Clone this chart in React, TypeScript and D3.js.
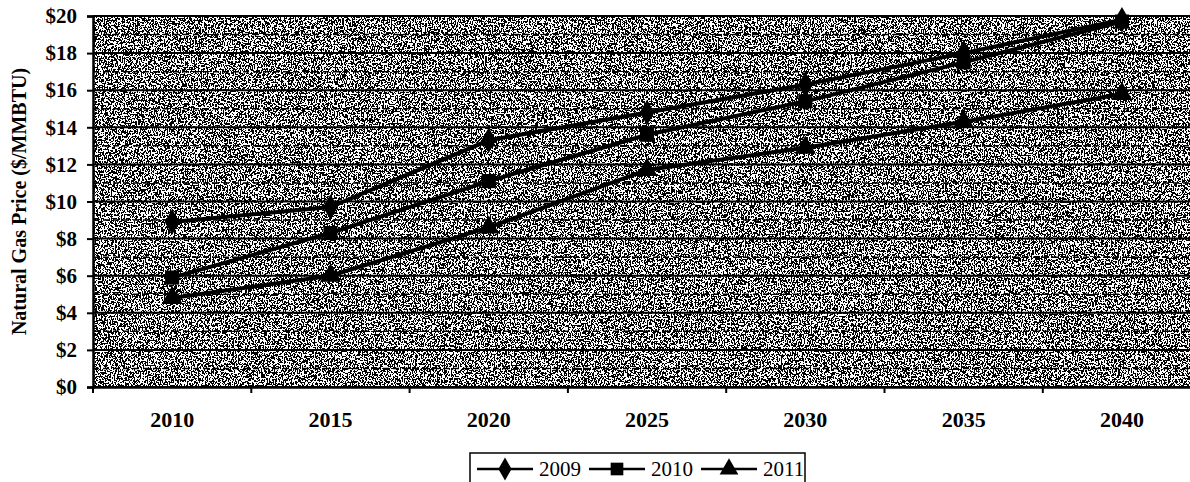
import React, { useEffect, useRef } from "react";
import * as d3 from "d3";

// categories on the x axis
const years = ["2010", "2015", "2020", "2025", "2030", "2035", "2040"];

// price forecasts ($/MMBTU), one array per projection year
const forecast2009 = [8.9, 9.7, 13.3, 14.8, 16.3, 18.0, 19.8];
const forecast2010 = [5.9, 8.3, 11.1, 13.6, 15.4, 17.5, 19.7];
const forecast2011 = [4.8, 6.0, 8.6, 11.7, 12.9, 14.3, 15.8];

const seriesNames = ["2009", "2010", "2011"];
const yTicks = [0, 2, 4, 6, 8, 10, 12, 14, 16, 18, 20];
const yMinor = [1, 3, 5, 7, 9, 11, 13, 15, 17, 19];

const WIDTH = 1190;
const HEIGHT = 482;

const App = () => {
  const ref = useRef<SVGSVGElement>(null);

  useEffect(() => {
    document.body.style.margin = "0";
    const svg = d3.select(ref.current);
    svg.selectAll("*").remove();

    const left = 93;
    const band = 158.3;
    const top = 16;
    const bottom = 387;

    const x = d3
      .scaleBand<string>()
      .domain(years)
      .range([left, left + band * years.length]);
    const y = d3.scaleLinear().domain([0, 20]).range([bottom, top]);

    // dithered scan-like background
    const defs = svg.append("defs");
    const f = defs
      .append("filter")
      .attr("id", "noise")
      .attr("x", 0)
      .attr("y", 0)
      .attr("width", "100%")
      .attr("height", "100%");
    f.append("feTurbulence")
      .attr("type", "fractalNoise")
      .attr("baseFrequency", "0.7 0.55")
      .attr("numOctaves", 3)
      .attr("seed", 7);
    f.append("feColorMatrix").attr("type", "saturate").attr("values", 0);
    const ct = f.append("feComponentTransfer");
    ["feFuncR", "feFuncG", "feFuncB"].forEach((fn) =>
      ct.append(fn).attr("type", "discrete").attr("tableValues", "0 1")
    );
    ct.append("feFuncA").attr("type", "linear").attr("slope", 0).attr("intercept", 1);

    const plotRight = x.range()[1];
    svg
      .append("rect")
      .attr("x", left)
      .attr("y", top)
      .attr("width", plotRight - left)
      .attr("height", bottom - top)
      .attr("fill", "#777")
      .attr("filter", "url(#noise)");

    // gridlines
    svg
      .append("g")
      .selectAll("line.minor")
      .data(yMinor)
      .join("line")
      .attr("x1", left)
      .attr("x2", plotRight)
      .attr("y1", (d) => y(d))
      .attr("y2", (d) => y(d))
      .attr("stroke", "#000")
      .attr("stroke-width", 1.5)
      .attr("stroke-dasharray", "6,4");
    svg
      .append("g")
      .selectAll("line.major")
      .data(yTicks)
      .join("line")
      .attr("x1", left)
      .attr("x2", plotRight)
      .attr("y1", (d) => y(d))
      .attr("y2", (d) => y(d))
      .attr("stroke", "#000")
      .attr("stroke-width", 2);

    // axes
    const yAxis = svg
      .append("g")
      .attr("transform", `translate(${left},0)`)
      .call(
        d3
          .axisLeft(y)
          .tickValues(yTicks)
          .tickFormat((d) => "$" + d)
          .tickSize(6)
          .tickPadding(10)
      );
    yAxis.select(".domain").attr("stroke-width", 2.5);
    yAxis.selectAll(".tick line").attr("stroke-width", 2);
    yAxis
      .selectAll("text")
      .attr("font-family", "Liberation Serif, serif")
      .attr("font-weight", "bold")
      .attr("font-size", 21)
      .attr("fill", "#000");

    const xAxis = svg
      .append("g")
      .attr("transform", `translate(0,${bottom})`)
      .call(d3.axisBottom(x).tickSize(0).tickPadding(24));
    xAxis.select(".domain").attr("stroke-width", 2.5);
    xAxis
      .selectAll("text")
      .attr("font-family", "Liberation Serif, serif")
      .attr("font-weight", "bold")
      .attr("font-size", 22)
      .attr("fill", "#000");
    // tick marks sit between categories
    xAxis
      .selectAll("line.sep")
      .data(years)
      .join("line")
      .attr("x1", (d) => x(d)!)
      .attr("x2", (d) => x(d)!)
      .attr("y1", 0)
      .attr("y2", 6)
      .attr("stroke", "#000")
      .attr("stroke-width", 2);

    svg
      .append("text")
      .attr("transform", `translate(26,${(top + bottom) / 2}) rotate(-90)`)
      .attr("text-anchor", "middle")
      .attr("font-family", "Liberation Serif, serif")
      .attr("font-weight", "bold")
      .attr("font-size", 20)
      .text("Natural Gas Price ($/MMBTU)");

    // lines + markers
    const allSeries = [forecast2009, forecast2010, forecast2011];
    const symbols = [d3.symbolDiamond, d3.symbolSquare, d3.symbolTriangle];
    const sizes = [190, 200, 190];
    const cx = (i: number) => x(years[i])! + x.bandwidth() / 2;
    const line = d3
      .line<number>()
      .x((_, i) => cx(i))
      .y((d) => y(d));

    allSeries.forEach((s, si) => {
      svg
        .append("path")
        .attr("d", line(s))
        .attr("fill", "none")
        .attr("stroke", "#000")
        .attr("stroke-width", 4);
      svg
        .append("g")
        .selectAll("path")
        .data(s)
        .join("path")
        .attr("transform", (d, i) => `translate(${cx(i)},${y(d)})`)
        .attr("d", d3.symbol().type(symbols[si]).size(sizes[si])())
        .attr("fill", "#000");
    });

    // legend
    const lg = svg.append("g").attr("transform", "translate(470,453)");
    lg.append("rect")
      .attr("width", 335)
      .attr("height", 40)
      .attr("fill", "#fff")
      .attr("stroke", "#000")
      .attr("stroke-width", 1.5);
    const itemW = 112;
    seriesNames.forEach((name, i) => {
      const g = lg.append("g").attr("transform", `translate(${7 + i * itemW},16)`);
      g.append("line")
        .attr("x1", 0)
        .attr("x2", 56)
        .attr("stroke", "#000")
        .attr("stroke-width", 2.5);
      g.append("path")
        .attr("transform", "translate(28,0)")
        .attr("d", d3.symbol().type(symbols[i]).size(sizes[i] * 0.8)())
        .attr("fill", "#000");
      g.append("text")
        .attr("x", 62)
        .attr("y", 7)
        .attr("font-family", "Liberation Serif, serif")
        .attr("font-size", 21)
        .text(name);
    });
  }, []);

  return <svg ref={ref} width={WIDTH} height={HEIGHT} style={{ display: "block" }} />;
};

export default App;
